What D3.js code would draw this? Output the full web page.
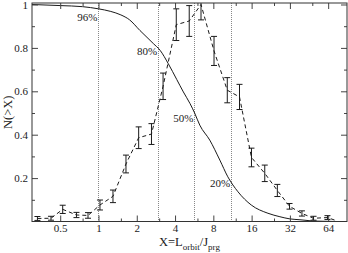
<!DOCTYPE html>
<html><head><meta charset="utf-8">
<script src="https://cdn.jsdelivr.net/npm/d3@7"></script>
<style>html,body{margin:0;padding:0;background:#fff;}svg{display:block;}svg text{font-family:"Liberation Serif","DejaVu Serif",serif !important;}</style>
</head><body>
<svg id="c" width="348" height="253"></svg>
<script>
// differential distribution (dashed, with error bars)
const binX = [0.331,0.423,0.523,0.671,0.827,1.027,1.30,1.645,2.07,2.61,3.22,4.09,5.17,6.40,8.10,10.30,12.85,15.96,20.3,25.5,31.8,39.8,49.1,63.2,75];
const binY = [0.014,0.015,0.056,0.030,0.028,0.076,0.116,0.265,0.386,0.403,0.623,0.907,0.924,1.0,0.786,0.605,0.574,0.295,0.222,0.143,0.070,0.037,0.015,0.018,0.003];
const binErr = [0.009,0.009,0.019,0.012,0.013,0.023,0.029,0.041,0.050,0.048,0.061,0.073,0.071,0.071,0.067,0.058,0.058,0.043,0.038,0.028,0.013,0.012,0.009,0.009,0.0];
// cumulative N(>X) (solid)
const cumX = [0.3,0.5,0.75,1.0,1.25,1.5,1.75,2.12,2.7,3.05,3.54,4.12,4.65,5.25,5.7,6.26,7.5,9.0,10.4,12.5,15.9,21.5,26.7,32,38.4,47,60,75];
const cumY = [1.0,0.995,0.99,0.98,0.968,0.952,0.93,0.88,0.82,0.789,0.727,0.655,0.597,0.543,0.50,0.444,0.375,0.283,0.206,0.137,0.076,0.038,0.022,0.012,0.008,0.003,0.001,0.0];
// percentile markers
const pctX = [1, 2.95, 5.67, 11.07];
const pctLabels = ["96%","80%","50%","20%"];
const pctLabelY = [0.926,0.766,0.457,0.159];
// ticks
const xTicks = [0.5,1,2,4,8,16,32,64];
const xTickLabels = ["0.5","1","2","4","8","16","32","64"];
const xMinor = [0.75,1.5,3,6,12,24,48];
const yTicks = [0.2,0.4,0.6,0.8,1];
const yTickLabels = ["0.2","0.4","0.6","0.8","1"];
const yMinor = [0.1,0.3,0.5,0.7,0.9];

(function(){
const L=32,R=347,T=3,B=221.5;
const FF = "'Liberation Serif','DejaVu Serif',serif";
const x = d3.scaleLog().base(2).domain([0.3,90]).range([L,R]);
const y = d3.scaleLinear().domain([0,1.0069]).range([B,T]);
const svg = d3.select("#c");
const ink = "#1a1a1a";

svg.append("defs").append("clipPath").attr("id","pc").append("rect")
  .attr("x",L).attr("y",T).attr("width",R-L).attr("height",B-T);
const g = svg.append("g").attr("clip-path","url(#pc)");

// dotted percentile lines
g.selectAll("line.p").data(pctX).join("line")
  .attr("x1",d=>Math.round(x(d))+0.5).attr("x2",d=>Math.round(x(d))+0.5)
  .attr("y1",T).attr("y2",B)
  .attr("stroke","#888").attr("stroke-width",1).attr("stroke-dasharray","1,1");

// cumulative curve
g.append("path").datum(cumX.map((d,i)=>[d,cumY[i]]))
  .attr("fill","none").attr("stroke",ink).attr("stroke-width",1)
  .attr("d",d3.line().x(d=>x(d[0])).y(d=>y(d[1])).curve(d3.curveMonotoneX));

// dashed line
g.append("path").datum(binX.map((d,i)=>[d,binY[i]]))
  .attr("fill","none").attr("stroke",ink).attr("stroke-width",1).attr("stroke-dasharray","4,3")
  .attr("d",d3.line().x(d=>x(d[0])).y(d=>y(d[1])));

// error bars
const eb = g.selectAll("g.eb").data(binX.map((d,i)=>({x:d,y:binY[i],e:binErr[i]})).filter(d=>d.e>0)).join("g");
eb.append("line").attr("x1",d=>x(d.x)).attr("x2",d=>x(d.x))
  .attr("y1",d=>y(d.y-d.e)).attr("y2",d=>y(d.y+d.e)).attr("stroke",ink).attr("stroke-width",1);
eb.append("line").attr("x1",d=>x(d.x)-3).attr("x2",d=>x(d.x)+3)
  .attr("y1",d=>y(d.y-d.e)).attr("y2",d=>y(d.y-d.e)).attr("stroke",ink).attr("stroke-width",1);
eb.append("line").attr("x1",d=>x(d.x)-3).attr("x2",d=>x(d.x)+3)
  .attr("y1",d=>y(d.y+d.e)).attr("y2",d=>y(d.y+d.e)).attr("stroke",ink).attr("stroke-width",1);

// percent labels
svg.selectAll("text.pl").data(pctX).join("text")
  .attr("x",d=>x(d)-1).attr("y",(d,i)=>y(pctLabelY[i]))
  .attr("text-anchor","end").attr("font-size",11).attr("font-family",FF).attr("fill",ink)
  .text((d,i)=>pctLabels[i]);

// axes (ticks inward)
const axB = svg.append("g").attr("transform",`translate(0,${B})`)
  .call(d3.axisBottom(x).tickValues(xTicks).tickSize(-6).tickFormat((d,i)=>xTickLabels[i]));
axB.selectAll("text").attr("y",3).attr("dy","0.71em");
svg.append("g").attr("transform",`translate(0,${B})`)
  .call(d3.axisBottom(x).tickValues(xMinor).tickSize(-3).tickFormat(""));
svg.append("g").attr("transform",`translate(0,${T})`)
  .call(d3.axisTop(x).tickValues(xTicks).tickSize(-6).tickFormat(""));
svg.append("g").attr("transform",`translate(0,${T})`)
  .call(d3.axisTop(x).tickValues(xMinor).tickSize(-3).tickFormat(""));
const axL = svg.append("g").attr("transform",`translate(${L},0)`)
  .call(d3.axisLeft(y).tickValues(yTicks).tickSize(-6).tickFormat((d,i)=>yTickLabels[i]));
axL.selectAll("text").attr("x",-4);
svg.append("g").attr("transform",`translate(${L},0)`)
  .call(d3.axisLeft(y).tickValues(yMinor).tickSize(-3).tickFormat(""));
svg.append("g").attr("transform",`translate(${R},0)`)
  .call(d3.axisRight(y).tickValues(yTicks).tickSize(-6).tickFormat(""));
svg.append("g").attr("transform",`translate(${R},0)`)
  .call(d3.axisRight(y).tickValues(yMinor).tickSize(-3).tickFormat(""));

svg.selectAll(".domain").remove();
svg.selectAll("g").attr("font-family",FF);
svg.selectAll(".tick line").attr("stroke","#444");
svg.selectAll(".tick text").attr("font-size",11).attr("fill",ink).attr("font-family",FF);

// frame
svg.append("rect").attr("x",L).attr("y",T).attr("width",R-L).attr("height",B-T)
  .attr("fill","none").attr("stroke","#333").attr("stroke-width",1);

// axis titles
const xt = svg.append("text").attr("x",(L+R)/2).attr("y",246).attr("text-anchor","middle")
  .attr("font-size",12.5).attr("font-family",FF).attr("fill",ink);
xt.append("tspan").text("X=L");
xt.append("tspan").attr("font-size",9).attr("dy",3.5).text("orbit");
xt.append("tspan").attr("dy",-3.5).text("/J");
xt.append("tspan").attr("font-size",9).attr("dy",3.5).text("prg");

svg.append("text").attr("transform",`translate(12,${(T+B)/2}) rotate(-90)`)
  .attr("text-anchor","middle").attr("font-size",12.5).attr("font-family",FF).attr("fill",ink).text("N(>X)");
})();
</script>
</body></html>
